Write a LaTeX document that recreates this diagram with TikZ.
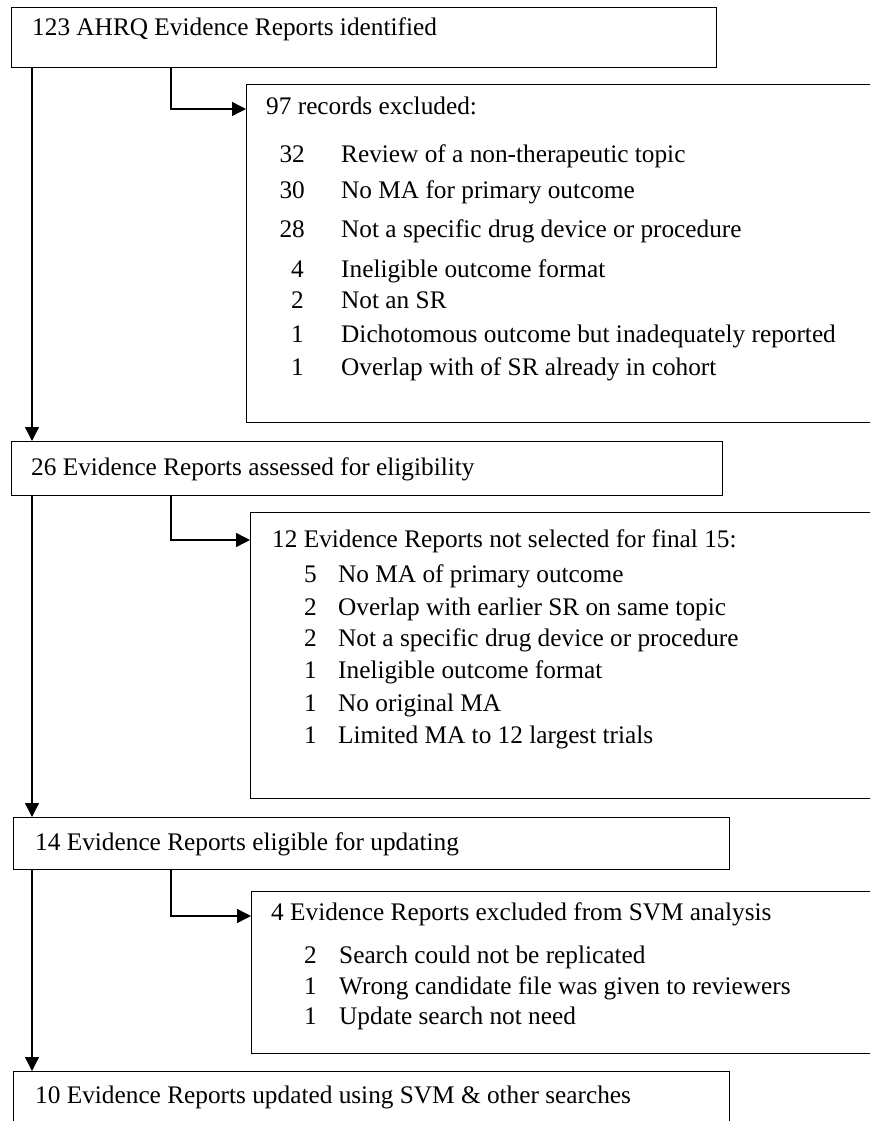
\documentclass[tikz,border=0pt]{standalone}
\usepackage{fontspec}
\setmainfont{Liberation Serif}
\usetikzlibrary{arrows.meta}
\begin{document}
\begin{tikzpicture}[x=1pt,y=-1pt,
  box/.style={draw=black, line width=1.4pt, anchor=north west, inner sep=0pt},
  txt/.style={anchor=base west, inner sep=0pt, font=\fontsize{25.3}{30}\selectfont},
  num/.style={anchor=base east, inner sep=0pt, font=\fontsize{25.3}{30}\selectfont},
  conn/.style={line width=1.4pt, -{Triangle[length=14pt,width=14pt]}}
]
\clip (0,0) rectangle (870,1121);
\fill[white] (0,0) rectangle (870,1121);
% boxes
\node[box, minimum width=705pt, minimum height=60pt] (b1) at (11,7) {};
\node[box, minimum width=640pt, minimum height=338pt] (b2) at (246,84) {};
\node[box, minimum width=711pt, minimum height=54pt] (b3) at (11,441) {};
\node[box, minimum width=640pt, minimum height=286pt] (b4) at (250,512) {};
\node[box, minimum width=716pt, minimum height=52pt] (b5) at (13,817) {};
\node[box, minimum width=640pt, minimum height=162pt] (b6) at (251,891) {};
\node[box, minimum width=716pt, minimum height=80pt] (b7) at (13,1071) {};
% texts
\node[txt] (t1) at (32,36) {123 AHRQ Evidence Reports identified};
\node[txt] (t2) at (266,114) {97 records excluded:};
\node[num] (n21) at (305,162) {32}; \node[txt] (i21) at (341,162) {Review of a non-therapeutic topic};
\node[num] (n22) at (305,198) {30}; \node[txt] (i22) at (341,198) {No MA for primary outcome};
\node[num] (n23) at (305,237) {28}; \node[txt] (i23) at (341,237) {Not a specific drug device or procedure};
\node[num] (n24) at (304,277) {4}; \node[txt] (i24) at (341,277) {Ineligible outcome format};
\node[num] (n25) at (304,308) {2}; \node[txt] (i25) at (341,308) {Not an SR};
\node[num] (n26) at (304,342) {1}; \node[txt] (i26) at (341,342) {Dichotomous outcome but inadequately reported};
\node[num] (n27) at (304,375) {1}; \node[txt] (i27) at (341,375) {Overlap with of SR already in cohort};
\node[txt] (t3) at (31,475) {26 Evidence Reports assessed for eligibility};
\node[txt] (t4) at (272,547) {12 Evidence Reports not selected for final 15:};
\node[num] (n41) at (317,582) {5}; \node[txt] (i41) at (338,582) {No MA of primary outcome};
\node[num] (n42) at (317,615) {2}; \node[txt] (i42) at (338,615) {Overlap with earlier SR on same topic};
\node[num] (n43) at (317,646) {2}; \node[txt] (i43) at (338,646) {Not a specific drug device or procedure};
\node[num] (n44) at (317,678) {1}; \node[txt] (i44) at (338,678) {Ineligible outcome format};
\node[num] (n45) at (317,711) {1}; \node[txt] (i45) at (338,711) {No original MA};
\node[num] (n46) at (317,743) {1}; \node[txt] (i46) at (338,743) {Limited MA to 12 largest trials};
\node[txt] (t5) at (35,850) {14 Evidence Reports eligible for updating};
\node[txt] (t6) at (271,920) {4 Evidence Reports excluded from SVM analysis};
\node[num] (n61) at (317,963) {2}; \node[txt] (i61) at (339,963) {Search could not be replicated};
\node[num] (n62) at (317,994) {1}; \node[txt] (i62) at (339,994) {Wrong candidate file was given to reviewers};
\node[num] (n63) at (317,1024) {1}; \node[txt] (i63) at (339,1024) {Update search not need};
\node[txt] (t7) at (35,1103) {10 Evidence Reports updated using SVM \& other searches};
% connectors
\coordinate (mx) at (32,0);
\coordinate (k1) at (171,109);
\coordinate (k2) at (171,540);
\coordinate (k3) at (171,916);
\draw[conn] (b1.south west -| mx) -- (b3.north west -| mx);
\draw[conn] (b3.south west -| mx) -- (b5.north west -| mx);
\draw[conn] (b5.south west -| mx) -- (b7.north west -| mx);
\draw[conn] (b1.south west -| k1) |- (b2.west |- k1);
\draw[conn] (b3.south west -| k2) |- (b4.west |- k2);
\draw[conn] (b5.south west -| k3) |- (b6.west |- k3);
\end{tikzpicture}
\end{document}
